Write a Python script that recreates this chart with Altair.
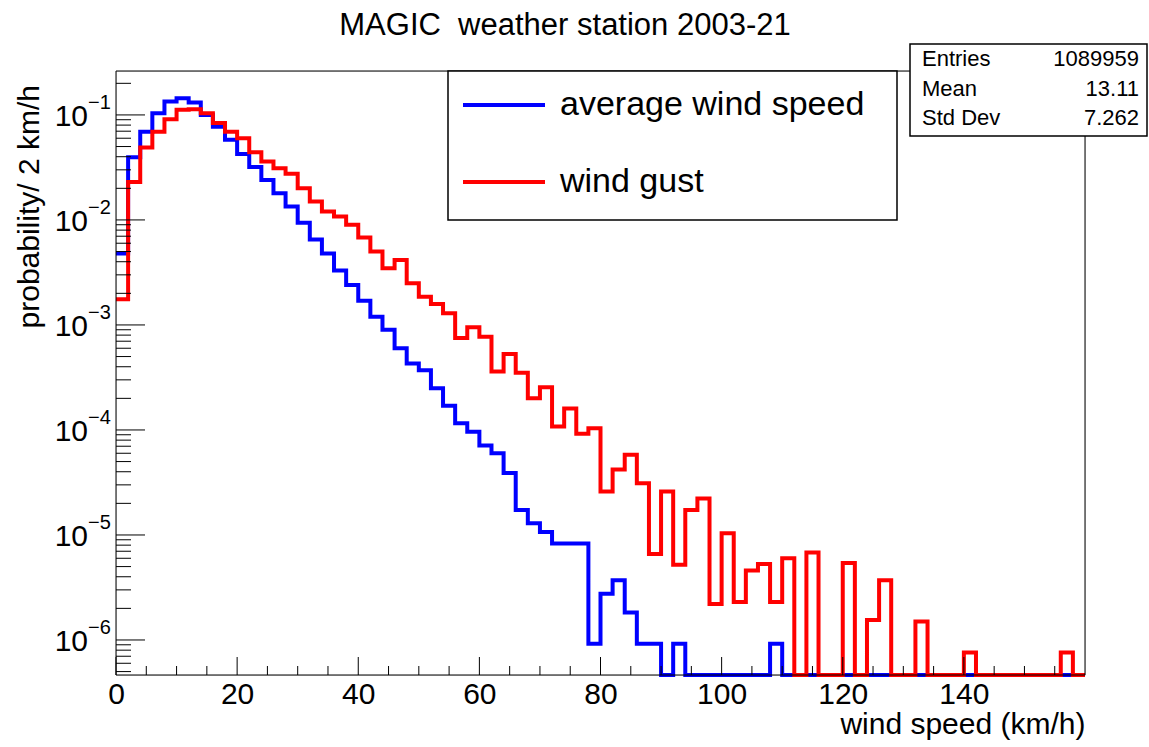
import altair as alt
import pandas as pd

# ---- data ----
edges = list(range(0, 160, 2))  # left edges of 2 km/h bins
blue_vals = [4.8e-3, 0.0395, 0.069, 0.104, 0.134, 0.144, 0.131, 0.100, 0.077, 0.058,
             0.0425, 0.032, 0.024, 0.018, 0.0134, 0.0094, 0.0065, 0.0048, 0.0033, 0.0024,
             1.7e-3, 1.2e-3, 9.0e-4, 6.0e-4, 4.3e-4, 3.7e-4, 2.5e-4, 1.7e-4, 1.16e-4, 9.6e-5,
             7.1e-5, 6.0e-5, 3.9e-5, 1.73e-5, 1.29e-5, 1.07e-5, 8.3e-6, 8.3e-6, 8.3e-6, 9.2e-7,
             2.75e-6, 3.7e-6, 1.83e-6, 9.2e-7, 9.2e-7, 0, 9.2e-7, 0, 0, 0,
             0, 0, 0, 0, 9.2e-7, 0, 0, 0, 0, 0,
             0, 0, 0, 0, 0, 0, 0, 0, 0, 0,
             0, 0, 0, 0, 0, 0, 0, 0, 0, 0]
red_vals = [1.76e-3, 0.023, 0.049, 0.069, 0.091, 0.112, 0.113, 0.104, 0.084, 0.069,
            0.060, 0.044, 0.036, 0.031, 0.0275, 0.020, 0.015, 0.012, 0.0108, 0.009,
            0.0068, 0.0050, 0.00347, 0.00416, 0.0025, 0.00186, 0.00158, 0.00129, 7.5e-4, 9.5e-4,
            7.7e-4, 3.6e-4, 5.3e-4, 3.5e-4, 2.0e-4, 2.55e-4, 1.08e-4, 1.6e-4, 9.2e-5, 1.04e-4,
            2.6e-5, 4.2e-5, 5.8e-5, 3.1e-5, 6.6e-6, 2.6e-5, 5.2e-6, 1.73e-5, 2.23e-5, 2.2e-6,
            1.04e-5, 2.3e-6, 4.6e-6, 5.3e-6, 2.3e-6, 6.0e-6, 0, 6.8e-6, 0, 0,
            5.4e-6, 0, 1.55e-6, 3.7e-6, 0, 0, 1.5e-6, 0, 0, 0,
            7.6e-7, 0, 0, 0, 0, 0, 0, 0, 7.6e-7, 0]
series_names = ["average wind speed", "wind gust"]
series_colors = ["#0000ff", "#ff0000"]

ytick_vals = [1e-1, 1e-2, 1e-3, 1e-4, 1e-5, 1e-6]
ytick_exp = ["\u22121", "\u22122", "\u22123", "\u22124", "\u22125", "\u22126"]
xtick_major = [0, 20, 40, 60, 80, 100, 120, 140]
xtick_minor = [5, 10, 15, 25, 30, 35, 45, 50, 55, 65, 70, 75, 85, 90, 95,
               105, 110, 115, 125, 130, 135, 145, 150, 155]

stat_names = ["Entries", "Mean", "Std Dev"]
stat_values = ["1089959", "13.11", "7.262"]

title_text = "MAGIC\u00a0 weather station 2003-21"
x_title = "wind speed (km/h)"
y_title = "probability/ 2 km/h"

# ---- layout ----
W, H = 969, 604
YMIN, YMAX = 4.64e-7, 0.262
FONT = "Liberation Sans"

ytick_minor = [k * 10.0 ** n for n in range(-7, 0) for k in range(2, 10)
               if YMIN <= k * 10.0 ** n <= YMAX]


def hist_df(vals, name):
    return pd.DataFrame({"x": edges + [160], "v": vals + [vals[-1]], "series": name})


hist = pd.concat([hist_df(blue_vals, series_names[0]),
                  hist_df(red_vals, series_names[1])], ignore_index=True)

xs = alt.Scale(domain=[0, 160], nice=False, zero=False)
ys = alt.Scale(type="log", domain=[YMIN, YMAX], nice=False, clamp=True)

color = alt.Color("series:N",
                  scale=alt.Scale(domain=series_names, range=series_colors),
                  legend=None)

xaxis = alt.Axis(
    values=xtick_major, labelFontSize=30, labelFont=FONT, labelColor="black",
    ticks=False, domain=False, grid=False, labelPadding=4, labelFlush=False,
    title=x_title, titleFontSize=30, titleFont=FONT, titleFontWeight="normal",
    titleColor="black", titleAnchor="end", titleAlign="right",
    titleBaseline="alphabetic", titleX=W, titleY=58,
)


def line_layer(name):
    return (
        alt.Chart(hist)
        .transform_filter(alt.datum.series == name)
        .transform_calculate(p=f"max(datum.v, {YMIN})")
        .mark_line(interpolate="step-after", strokeWidth=4)
        .encode(
            x=alt.X("x:Q", scale=xs, axis=xaxis),
            y=alt.Y("p:Q", scale=ys, axis=None),
            color=color,
        )
    )


one = pd.DataFrame({"a": [0]})

frame = alt.Chart(one).mark_rect(fillOpacity=0, stroke="black", strokeWidth=1).encode(
    x=alt.value(0), x2=alt.value(W), y=alt.value(0), y2=alt.value(H))

ymaj = alt.Chart(pd.DataFrame({"t": ytick_vals})).mark_rule(
    color="black", strokeWidth=1).encode(
    y=alt.Y("t:Q", scale=ys, axis=None), x=alt.value(0), x2=alt.value(29))
ymin_ = alt.Chart(pd.DataFrame({"t": ytick_minor})).mark_rule(
    color="black", strokeWidth=1).encode(
    y=alt.Y("t:Q", scale=ys, axis=None), x=alt.value(0), x2=alt.value(15))
xmaj = alt.Chart(pd.DataFrame({"t": xtick_major})).mark_rule(
    color="black", strokeWidth=1).encode(
    x=alt.X("t:Q", scale=xs, axis=xaxis), y=alt.value(H), y2=alt.value(H - 18))
xmin_ = alt.Chart(pd.DataFrame({"t": xtick_minor})).mark_rule(
    color="black", strokeWidth=1).encode(
    x=alt.X("t:Q", scale=xs, axis=xaxis), y=alt.value(H), y2=alt.value(H - 9))

ylab = alt.Chart(pd.DataFrame({"t": ytick_vals})).mark_text(
    align="right", baseline="middle", fontSize=30, font=FONT, color="black", dy=2).encode(
    y=alt.Y("t:Q", scale=ys, axis=None), x=alt.value(-28), text=alt.value("10"))
yexp = alt.Chart(pd.DataFrame({"t": ytick_vals, "e": ytick_exp})).mark_text(
    align="left", baseline="middle", fontSize=20, font=FONT, color="black", dy=-12).encode(
    y=alt.Y("t:Q", scale=ys, axis=None), x=alt.value(-28), text="e:N")

ytitle = alt.Chart(pd.DataFrame({"s": [y_title]})).mark_text(
    align="right", baseline="middle", angle=270, fontSize=30, font=FONT, color="black").encode(
    x=alt.value(-86), y=alt.value(14), text="s:N")

title = alt.Chart(pd.DataFrame({"s": [title_text]})).mark_text(
    align="center", baseline="alphabetic", fontSize=31, font=FONT, color="black").encode(
    x=alt.value(449), y=alt.value(-36), text="s:N")

# legend box (ROOT style)
leg_scale = alt.Scale(domain=[0, 1], range=[34, 111], nice=False, zero=False)
leg_box = alt.Chart(one).mark_rect(fill="white", stroke="black", strokeWidth=1.5).encode(
    x=alt.value(332), x2=alt.value(781), y=alt.value(0), y2=alt.value(149))
leg_df = pd.DataFrame({"series": series_names, "row": [0, 1]})
leg_lines = alt.Chart(leg_df).mark_rule(strokeWidth=4).encode(
    x=alt.value(347), x2=alt.value(429),
    y=alt.Y("row:Q", scale=leg_scale, axis=None),
    color=color)
leg_text = alt.Chart(leg_df).mark_text(
    align="left", baseline="middle", fontSize=34, font=FONT, color="black").encode(
    x=alt.value(444),
    y=alt.Y("row:Q", scale=leg_scale, axis=None),
    text="series:N")

stats_box = alt.Chart(one).mark_rect(fill="white", stroke="black", strokeWidth=1.5).encode(
    x=alt.value(794), x2=alt.value(1031), y=alt.value(-27), y2=alt.value(65))
stats_df = pd.DataFrame({"n": ["\n".join(stat_names)], "v": ["\n".join(stat_values)]})
stats_names_t = alt.Chart(stats_df).mark_text(
    align="left", baseline="middle", fontSize=22, font=FONT, color="black",
    lineBreak="\n", lineHeight=29.5).encode(x=alt.value(806), y=alt.value(-12), text="n:N")
stats_vals_t = alt.Chart(stats_df).mark_text(
    align="right", baseline="middle", fontSize=22, font=FONT, color="black",
    lineBreak="\n", lineHeight=29.5).encode(x=alt.value(1023), y=alt.value(-12), text="v:N")

plot = alt.layer(
    line_layer(series_names[0]), line_layer(series_names[1]),
    ymin_, ymaj, xmin_, xmaj, frame,
    ylab, yexp, ytitle, title,
    stats_box, stats_names_t, stats_vals_t,
)
legend = alt.layer(leg_box, leg_lines, leg_text)

chart = alt.layer(plot, legend).resolve_scale(y="independent").properties(
    width=W, height=H,
    padding={"left": 116, "top": 71, "right": 64, "bottom": 72},
    autosize=alt.AutoSizeParams(type="none"),
).configure_view(stroke=None).configure(background="white")

chart.save("out.html", embed_options={"renderer": "svg", "actions": False})
